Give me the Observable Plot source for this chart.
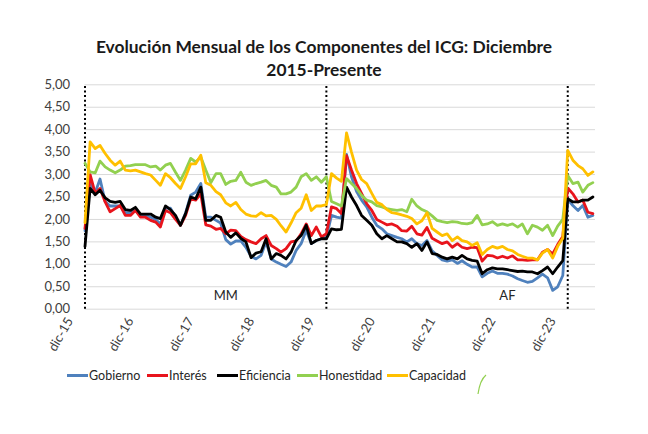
<!DOCTYPE html>
<html><head><meta charset="utf-8">
<script src="https://cdn.jsdelivr.net/npm/d3@7"></script>
<script src="https://cdn.jsdelivr.net/npm/@observablehq/plot@0.6"></script>
<style>
body{margin:0;background:#fff;font-family:Lato,"Open Sans",sans-serif;width:648px;height:434px;position:relative;overflow:hidden;}
#title{position:absolute;top:35px;left:0;width:648px;text-align:center;font-weight:bold;font-size:17.4px;line-height:23px;color:#1a1a1a;z-index:2;}
#chart{position:absolute;top:64px;left:0;z-index:1;}
#legend{position:absolute;top:366px;left:0;width:648px;height:18px;font-size:12.5px;color:#262626;}
.item{position:absolute;top:0;height:18px;display:flex;align-items:center;}
.sw{display:inline-block;width:21px;height:3px;margin-right:1px;}
</style></head><body>
<div id="title">Evolución Mensual de los Componentes del ICG: Diciembre<br>2015-Presente</div>
<div id="chart"></div>
<div id="legend"></div>
<script>
// Monthly series, Dec 2015 .. May 2024
const startYear = 2015, startMonth = 11;
const seriesNames = ["Gobierno","Interés","Eficiencia","Honestidad","Capacidad"];
const seriesColors = ["#4F81BD","#E8141C","#000000","#92D050","#FFC000"];
const gobierno = [1.75,2.8,2.6,2.9,2.4,2.3,2.3,2.3,2.15,2.15,2.2,2.1,2.1,2.05,2.0,1.9,2.25,2.25,2.05,1.87,2.15,2.54,2.61,2.8,
2.05,2.05,1.98,1.92,1.55,1.45,1.52,1.52,1.38,1.18,1.12,1.2,1.5,1.12,1.05,1.0,0.95,1.05,1.31,1.46,1.76,1.46,1.53,1.57,1.6,
2.09,2.05,2.03,3.45,2.95,2.62,2.43,2.28,2.05,1.87,1.79,1.68,1.64,1.6,1.57,1.5,1.57,1.46,1.42,1.53,1.3,1.2,1.1,1.07,1.1,1.02,1.08,1.0,0.94,0.94,
0.72,0.8,0.85,0.8,0.8,0.78,0.74,0.68,0.64,0.6,0.62,0.7,0.78,0.7,0.42,0.5,0.75,2.45,2.31,2.2,2.31,2.05,2.09];
const interes = [1.8,3.0,2.58,2.69,2.39,2.17,2.24,2.31,2.09,2.09,2.2,2.05,2.05,1.98,1.94,1.83,2.2,2.15,2.0,1.87,2.09,2.46,2.43,2.57,
1.88,1.85,1.78,1.8,1.68,1.76,1.75,1.62,1.55,1.5,1.46,1.57,1.64,1.42,1.35,1.27,1.35,1.5,1.52,1.68,1.9,1.64,1.83,1.61,1.68,
2.28,2.24,2.13,3.42,3.1,2.8,2.58,2.35,2.2,2.0,1.94,1.88,1.9,1.85,1.75,1.74,1.85,1.68,1.65,1.82,1.58,1.52,1.46,1.5,1.38,1.46,1.38,1.35,1.38,1.37,
1.07,1.2,1.19,1.14,1.18,1.14,1.19,1.1,1.1,1.09,1.1,1.1,1.27,1.33,1.23,1.44,1.62,2.7,2.57,2.39,2.43,2.16,2.13];
const eficiencia = [1.4,2.69,2.55,2.65,2.48,2.4,2.38,2.4,2.22,2.2,2.27,2.12,2.12,2.12,2.05,2.02,2.3,2.22,2.09,1.87,2.13,2.5,2.46,2.72,
1.98,1.98,2.09,2.05,1.72,1.6,1.7,1.58,1.5,1.15,1.25,1.28,1.57,1.12,1.24,1.2,1.12,1.27,1.53,1.64,1.87,1.46,1.53,1.57,1.57,
1.79,1.77,1.78,2.72,2.5,2.31,2.09,1.98,1.87,1.68,1.57,1.64,1.57,1.5,1.5,1.46,1.38,1.46,1.31,1.5,1.24,1.22,1.16,1.12,1.16,1.12,1.2,1.12,1.09,1.07,
0.79,0.88,0.92,0.9,0.9,0.88,0.86,0.84,0.85,0.83,0.83,0.79,0.86,0.94,0.79,0.94,1.08,2.46,2.39,2.39,2.43,2.43,2.5];
const honestidad = [3.25,3.06,3.04,3.3,3.17,3.1,3.04,3.1,3.19,3.2,3.22,3.22,3.22,3.17,3.19,3.1,3.21,3.25,3.05,2.87,3.1,3.36,3.28,3.39,
3.1,2.82,3.02,3.02,2.78,2.85,2.87,3.05,2.83,2.76,2.8,2.83,2.87,2.76,2.72,2.57,2.57,2.61,2.72,2.95,3.02,2.87,2.95,2.83,2.95,
2.4,2.35,2.3,2.91,2.8,2.69,2.54,2.43,2.39,2.31,2.28,2.24,2.22,2.2,2.22,2.17,2.45,2.3,2.22,2.17,2.08,1.98,1.95,1.93,1.95,1.94,1.91,1.9,1.93,2.09,
1.88,1.9,1.95,1.87,1.9,1.87,1.9,1.83,1.9,1.68,1.87,1.83,1.76,1.87,1.64,1.85,2.0,2.98,2.8,2.83,2.61,2.76,2.82];
const capacidad = [1.93,3.73,3.58,3.65,3.47,3.32,3.21,3.3,3.1,3.08,3.1,3.06,3.02,2.99,2.87,2.76,3.02,2.93,2.8,2.69,2.95,3.24,3.24,3.43,
2.82,2.76,2.62,2.55,2.37,2.3,2.38,2.22,2.12,2.08,2.07,2.15,2.08,2.09,2.0,1.86,1.72,1.92,2.15,2.25,2.55,2.2,2.3,2.3,2.33,
3.02,2.92,2.85,3.93,3.5,3.1,2.89,2.8,2.58,2.38,2.33,2.22,2.15,2.13,2.1,2.07,2.02,1.9,1.97,2.15,1.8,1.72,1.64,1.68,1.53,1.61,1.53,1.5,1.42,1.48,
1.22,1.33,1.4,1.36,1.4,1.33,1.3,1.22,1.18,1.14,1.14,1.1,1.25,1.33,1.14,1.4,1.58,3.54,3.32,3.2,3.13,2.98,3.06];
const seriesValues = [gobierno, interes, eficiencia, honestidad, capacidad];
const tickYears = [2015,2016,2017,2018,2019,2020,2021,2022,2023];
const yTicks = [0,0.5,1,1.5,2,2.5,3,3.5,4,4.5,5];
const dividerYears = [2015,2019,2023];
const periodLabels = [{label:"MM", year:2018, month:3}, {label:"AF", year:2022, month:11}];

const monthDate = i => new Date(Date.UTC(startYear, startMonth + i, 1));
const rows = [];
seriesValues.forEach((vals, s) => vals.forEach((v, i) => rows.push({date: monthDate(i), value: v, serie: seriesNames[s]})));
const decTicks = tickYears.map(y => new Date(Date.UTC(y, 11, 1)));
const dividers = dividerYears.map(y => new Date(Date.UTC(y, 11, 1)));
const labels = periodLabels.map(d => ({date: new Date(Date.UTC(d.year, d.month, 1)), label: d.label}));
const fmt = d => d.toFixed(2).replace(".", ",");

const chart = Plot.plot({
  width: 648, height: 300,
  marginLeft: 84.5, marginRight: 53, marginTop: 20.3, marginBottom: 55.3,
  style: {fontFamily: "Lato, 'Open Sans', sans-serif", fontSize: "13px", color: "#404040", background: "transparent"},
  x: {type: "utc", domain: [new Date(Date.UTC(2015,11,1)), new Date(Date.UTC(2024,4,17))]},
  y: {domain: [0, 5]},
  color: {domain: seriesNames, range: seriesColors},
  marks: [
    Plot.gridY(yTicks, {stroke: "#d9d9d9", strokeOpacity: 1, strokeWidth: 1}),
    Plot.ruleX(dividers, {y1: 0, y2: 5, stroke: "#000", strokeWidth: 2, strokeDasharray: "2,2.6"}),
    Plot.line(rows, {x: "date", y: "value", z: "serie", stroke: "serie", strokeWidth: 2.8, strokeLinejoin: "round"}),
    Plot.text(labels, {x: "date", y: 0.29, text: "label", fontSize: 13, fill: "#262626"}),
    Plot.axisY({ticks: yTicks, tickSize: 0, tickPadding: 15, tickFormat: fmt, fontSize: 13, label: null}),
    Plot.axisX({ticks: decTicks, tickSize: 0, tickRotate: -60, tickPadding: 6, dx: -15, dy: 3.5, tickFormat: d => "dic-" + String(d.getUTCFullYear()).slice(2), fontSize: 13, label: null})
  ]
});
document.getElementById("chart").appendChild(chart);

const legend = document.getElementById("legend");
const lefts = [67, 147, 217, 297, 387];
seriesNames.forEach((n, i) => {
  const it = document.createElement("div");
  it.className = "item";
  it.style.left = lefts[i] + "px";
  it.innerHTML = `<span class="sw" style="background:${seriesColors[i]}"></span><span>${n}</span>`;
  legend.appendChild(it);
});
const arc = document.createElementNS("http://www.w3.org/2000/svg", "svg");
arc.setAttribute("width", 20); arc.setAttribute("height", 30);
arc.style.position = "absolute"; arc.style.left = "472px"; arc.style.top = "6px";
arc.innerHTML = '<path d="M14,3 Q8,8 6,22" fill="none" stroke="#92D050" stroke-width="1.2"/>';
legend.appendChild(arc);
</script>
</body></html>
